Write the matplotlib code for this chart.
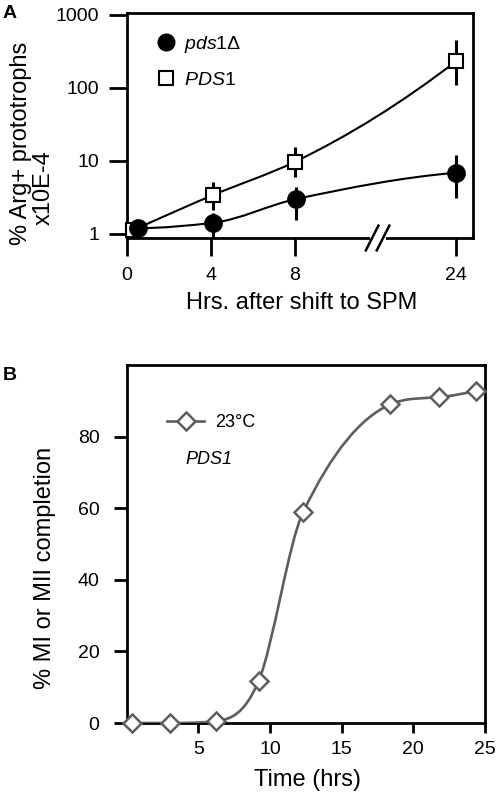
import numpy as np
import matplotlib
matplotlib.use("Agg")
import matplotlib.pyplot as plt
import matplotlib.transforms as mtransforms
from matplotlib.path import Path
from matplotlib.patches import PathPatch
from matplotlib.lines import Line2D

plt.rcParams['font.family'] = ['Liberation Sans', 'DejaVu Sans']
plt.rcParams['mathtext.fontset'] = 'custom'
plt.rcParams['mathtext.it'] = 'Liberation Sans:italic'
plt.rcParams['mathtext.rm'] = 'Liberation Sans'

# ---- panel A: Arg+ prototrophs (log scale), x axis broken between 8 and 24 h
hrs_ticks = [0, 4, 8, 24]
pds1d_hrs = [0.55, 4.1, 8.1, 24]
pds1d_val = [1.2, 1.42, 3.0, 6.9]
pds1d_lo = [1.2, 0.85, 1.55, 3.1]
pds1d_hi = [1.2, 1.95, 4.4, 12.0]
PDS1_hrs = [0.3, 4.1, 8.0, 24]
PDS1_val = [1.12, 3.4, 9.7, 234]
PDS1_lo = [1.12, 2.1, 6.0, 110]
PDS1_hi = [1.12, 5.2, 15.5, 455]
a_yticks = [1, 10, 100, 1000]

# ---- panel B: MI / MII completion
time_hrs = [0.4, 3.0, 6.2, 9.2, 12.3, 18.4, 21.8, 24.4]
mi_pct = [0, 0, 0.5, 11.7, 58.8, 89, 91, 92.7]
b_xticks = [5, 10, 15, 20, 25]
b_yticks = [0, 20, 40, 60, 80]

W, H = 498, 799
GRAY = '#5e5e5e'


def hpos(h):
    # broken axis: 0-8 h linear, then 8-24 h squeezed
    h = np.asarray(h, float)
    return np.where(h <= 8, h, 8 + (h - 8) * (15.7 - 8) / 16.0)


def pchip_slopes(x, y):
    h = np.diff(x)
    d = np.diff(y) / h
    n = len(x)
    m = np.zeros(n)
    for i in range(1, n - 1):
        if d[i - 1] * d[i] > 0:
            w1 = 2 * h[i] + h[i - 1]
            w2 = h[i] + 2 * h[i - 1]
            m[i] = (w1 + w2) / (w1 / d[i - 1] + w2 / d[i])
    m0 = ((2 * h[0] + h[1]) * d[0] - h[0] * d[1]) / (h[0] + h[1])
    m[0] = m0 if m0 * d[0] > 0 else 0.0
    mn = ((2 * h[-1] + h[-2]) * d[-1] - h[-1] * d[-2]) / (h[-1] + h[-2])
    m[-1] = mn if mn * d[-1] > 0 else 0.0
    return m


def cardinal_slopes(x, y):
    # centred secants, limited so the curve stays monotone (Fritsch-Carlson)
    h = np.diff(x)
    d = np.diff(y) / h
    n = len(x)
    m = np.zeros(n)
    m[0], m[-1] = d[0], d[-1]
    for i in range(1, n - 1):
        m[i] = (y[i + 1] - y[i - 1]) / (x[i + 1] - x[i - 1])
    for i in range(n - 1):
        if d[i] == 0:
            m[i] = m[i + 1] = 0.0
            continue
        a, b = m[i] / d[i], m[i + 1] / d[i]
        s = a * a + b * b
        if s > 9:
            t = 3 / np.sqrt(s)
            m[i], m[i + 1] = t * a * d[i], t * b * d[i]
    return m


def hermite_path(x, y, slopes=pchip_slopes):
    x = np.asarray(x, float)
    y = np.asarray(y, float)
    h = np.diff(x)
    m = slopes(x, y)
    verts = [(x[0], y[0])]
    codes = [Path.MOVETO]
    for i in range(len(x) - 1):
        verts += [(x[i] + h[i] / 3, y[i] + m[i] * h[i] / 3),
                  (x[i + 1] - h[i] / 3, y[i + 1] - m[i + 1] * h[i] / 3),
                  (x[i + 1], y[i + 1])]
        codes += [Path.CURVE4] * 3
    return np.array(verts), codes


fig = plt.figure(figsize=(W / 100, H / 100), dpi=100)

# ================= panel A =================
axA = fig.add_axes([126.7 / W, 1 - 238 / H, 346 / W, 225 / H])
axA.set_yscale('log')
axA.set_ylim(0.88, 1065)
axA.set_xlim(0, hpos(24) + 0.78)

for hrs, val, lo, hi, mk, fc, ms in [
        (PDS1_hrs, PDS1_val, PDS1_lo, PDS1_hi, 's', 'white', 10),
        (pds1d_hrs, pds1d_val, pds1d_lo, pds1d_hi, 'o', 'black', 12)]:
    px = hpos(hrs)
    verts, codes = hermite_path(px, np.log10(val))
    verts[:, 1] = 10 ** verts[:, 1]
    axA.add_patch(PathPatch(Path(verts, codes), fill=False, ec='black', lw=1.5, zorder=3))
    axA.vlines(px, lo, hi, color='black', lw=2.2, zorder=3)
    axA.plot(px, val, ls='none', marker=mk, mfc=fc, mec='black', mew=1.5, ms=ms,
             zorder=5, clip_on=False)

hA = [Line2D([], [], ls='none', marker='o', mfc='black', mec='black', ms=12),
      Line2D([], [], ls='none', marker='s', mfc='white', mec='black', mew=1.5, ms=9.5)]
axA.legend(hA, [r'$\it{pds1}$Δ', r'$\it{PDS1}$'], loc='center left',
           bbox_to_anchor=(0.078, 0.784), frameon=False, fontsize=14,
           handlelength=1.3, handletextpad=0.25, borderpad=0, borderaxespad=0,
           labelspacing=0.85)

axA.set_yticks(a_yticks)
axA.set_yticklabels([str(v) for v in a_yticks])
axA.yaxis.set_minor_locator(matplotlib.ticker.NullLocator())
axA.set_xticks(hpos(hrs_ticks))
axA.set_xticklabels([str(v) for v in hrs_ticks])
axA.tick_params(axis='y', direction='out', length=13, width=2, labelsize=14, pad=7)
axA.tick_params(axis='x', direction='out', length=13, width=2, labelsize=14, pad=8)
for s in axA.spines.values():
    s.set_linewidth(2)

# axis break marks on the bottom spine
brk = mtransforms.blended_transform_factory(axA.transData, axA.transAxes)
bx = 11.95
axA.plot([bx - 0.25, bx + 0.25], [0, 0], color='white', lw=3.5, transform=brk,
         clip_on=False, zorder=6)
for off in (-0.26, 0.26):
    axA.plot([bx + off - 0.3, bx + off + 0.3], [-0.055, 0.055], color='black',
             lw=1.8, transform=brk, clip_on=False, zorder=7)

# ================= panel B =================
axB = fig.add_axes([126.7 / W, 1 - 723 / H, 358.3 / W, 358 / H])
axB.set_xlim(0, 25)
axB.set_ylim(0, 100)
verts, codes = hermite_path(time_hrs, mi_pct, cardinal_slopes)
axB.add_patch(PathPatch(Path(verts, codes), fill=False, ec=GRAY, lw=1.9, zorder=3))
axB.plot(time_hrs, mi_pct, ls='none', marker='D', mfc='white', mec=GRAY, mew=1.8,
         ms=9.6, zorder=5, clip_on=False)

hB = [Line2D([], [], color=GRAY, lw=1.9, marker='D', mfc='white', mec=GRAY, mew=1.8, ms=9.6)]
axB.legend(hB, ['23°C'], loc='center left', bbox_to_anchor=(0.1126, 0.838),
           frameon=False, fontsize=13, handlelength=2.05, handletextpad=0.6,
           borderpad=0, borderaxespad=0)
axB.text(0.163, 0.735, 'PDS1', style='italic', fontsize=13, transform=axB.transAxes,
         ha='left', va='center')

axB.set_xticks(b_xticks)
axB.set_yticks(b_yticks)
axB.tick_params(axis='y', direction='out', length=9.5, width=2, labelsize=14, pad=10)
axB.tick_params(axis='x', direction='out', length=7, width=2, labelsize=14, pad=6)
for s in axB.spines.values():
    s.set_linewidth(2)

# ================= labels =================
fig.text(10 / W, 1 - 13 / H, 'A', fontsize=14, fontweight='bold', ha='center', va='center')
fig.text(9.5 / W, 1 - 375 / H, 'B', fontsize=14, fontweight='bold', ha='center', va='center')
fig.text(21.5 / W, 1 - 143 / H, '% Arg+ prototrophs', rotation=90, fontsize=17,
         ha='center', va='center')
fig.text(44 / W, 1 - 188 / H, 'x10E-4', rotation=90, fontsize=17, ha='center', va='center')
fig.text(302 / W, 1 - 303 / H, 'Hrs. after shift to SPM', fontsize=17, ha='center', va='center')
fig.text(307 / W, 1 - 780 / H, 'Time (hrs)', fontsize=17, ha='center', va='center')
fig.text(45 / W, 1 - 568 / H, '% MI or MII completion', rotation=90, fontsize=17,
         ha='center', va='center')

fig.savefig('out.png', dpi=100)
